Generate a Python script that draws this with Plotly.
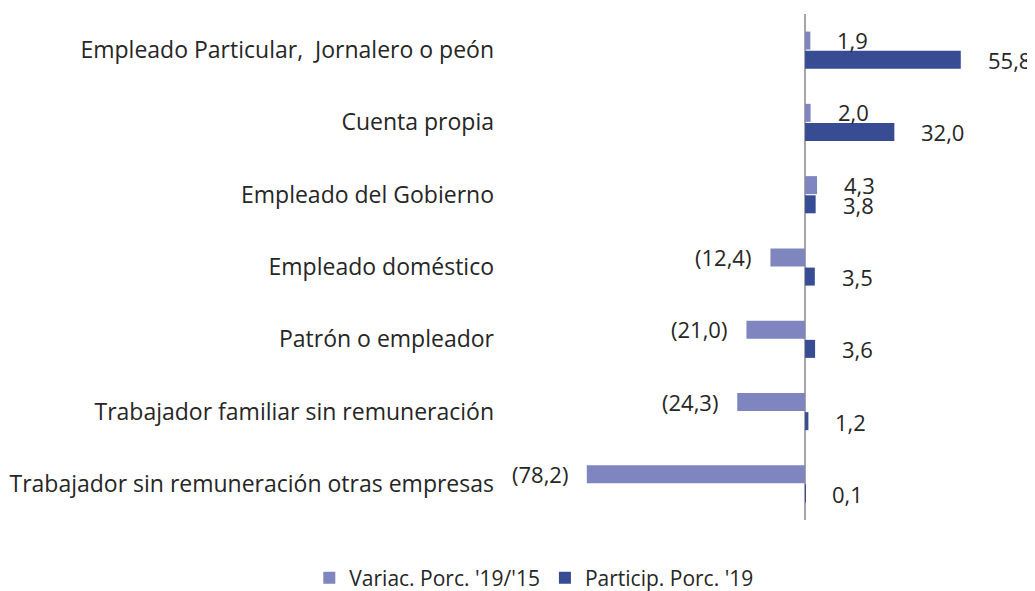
import plotly.graph_objects as go

categories = [
    "Empleado Particular,  Jornalero o peón",
    "Cuenta propia",
    "Empleado del Gobierno",
    "Empleado doméstico",
    "Patrón o empleador",
    "Trabajador familiar sin remuneración",
    "Trabajador sin remuneración otras empresas",
]
variac = [1.9, 2.0, 4.3, -12.4, -21.0, -24.3, -78.2]
particip = [55.8, 32.0, 3.8, 3.5, 3.6, 1.2, 0.1]
series_names = ["Variac. Porc. '19/'15", "Particip. Porc. '19"]
colors = ["#7f86bf", "#384c94"]

FONT = "Open Sans"
TXT = "#262626"


def fmt(v):
    s = f"{abs(v):.1f}".replace(".", ",")
    return f"({s})" if v < 0 else s


fig = go.Figure()
for name, vals, col in zip(series_names, [variac, particip], colors):
    fig.add_trace(go.Bar(
        y=categories, x=vals, name=name, orientation="h",
        marker=dict(color=col, line=dict(width=0)),
    ))

annotations = []
for vals, ysh in [(variac, 10), (particip, -10)]:
    for c, v in zip(categories, vals):
        annotations.append(dict(
            x=v, y=c, xref="x", yref="y", text=fmt(v), showarrow=False,
            xanchor="left" if v >= 0 else "right",
            xshift=25 if v >= 0 else -17, yshift=ysh,
            font=dict(family=FONT, size=22, color=TXT),
        ))

# The page adds an 8px body margin, so the figure is sized to fit the window.
fig.update_layout(
    width=1027, height=583,
    margin=dict(l=492, r=5, t=6, b=71),
    paper_bgcolor="white", plot_bgcolor="white",
    barmode="group", bargap=0.47, bargroupgap=0.06,
    font=dict(family=FONT, size=22, color=TXT),
    xaxis=dict(range=[-109.3, 80.6], showgrid=False, showticklabels=False,
               zeroline=True, zerolinecolor="#a6a6a6", zerolinewidth=1.5,
               automargin=False, fixedrange=True),
    yaxis=dict(autorange="reversed", showgrid=False, ticks="", ticklabelstandoff=5,
               automargin=False,
               tickfont=dict(family=FONT, size=23, color=TXT)),
    legend=dict(orientation="h", xref="container", yref="container",
                x=0.512, y=0.0223, xanchor="center", yanchor="middle",
                font=dict(family=FONT, size=21, color=TXT), itemwidth=30),
    annotations=annotations,
)

fig.write_html("out.html")
